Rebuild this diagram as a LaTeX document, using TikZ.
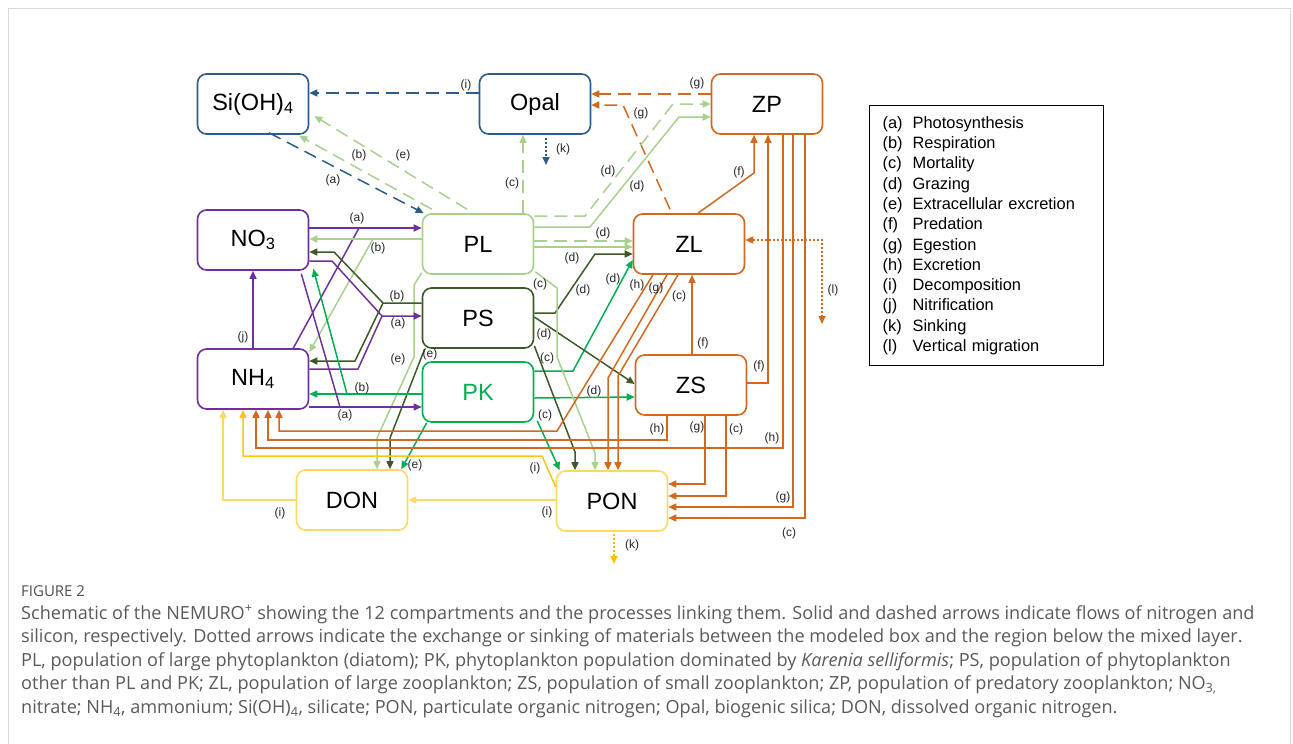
\documentclass[tikz,border=0pt]{standalone}
\usepackage{fontspec}
\setmainfont{Liberation Sans}
\newfontfamily\captionfont{Open Sans}
\usepackage{tikz}
\usetikzlibrary{arrows.meta, calc}
\definecolor{siblue}{HTML}{2E5C8A}
\definecolor{zooorange}{HTML}{D2691E}
\definecolor{nutpurple}{HTML}{7030A0}
\definecolor{plgreen}{HTML}{A9D18E}
\definecolor{psgreen}{HTML}{3B5A26}
\definecolor{pkgreen}{HTML}{00B050}
\definecolor{detyellow}{HTML}{FFD966}
\definecolor{goldyellow}{HTML}{FFC000}
\definecolor{captiongray}{HTML}{5A5A5A}

\begin{document}
\begin{tikzpicture}[
    x=1pt, y=-1pt,
    box/.style={rectangle, rounded corners=9pt, draw, line width=1.6pt, fill=white,
                minimum width=111pt, minimum height=60pt, inner sep=0pt,
                font=\fontsize{23.5}{23.5}\selectfont},
    flow/.style={line width=1.5pt, -{Triangle[length=8pt, width=7pt]}},
    siflow/.style={flow, dash pattern=on 13pt off 7pt},
    link/.style={line width=1.5pt},
    sink/.style={line width=1.6pt, dash pattern=on 2pt off 2pt, -{Triangle[length=8pt, width=7pt]}},
    lbl/.style={font=\fontsize{12}{12}\selectfont, text=black!85, inner sep=0pt},
]
\useasboundingbox (0,0) rectangle (1293,744);
\draw[gray!30, line width=0.8pt] (8,744) -- (8,8) -- (1290,8) -- (1290,744);

% Row 1: silicate, opal, predatory zooplankton
\node[box, draw=siblue] (siloh) at (253,104) {Si(OH)\textsubscript{4}};
\node[box, draw=siblue] (opal) at (535,104) {Opal};
\node[box, draw=zooorange] (zp) at (767,104) {ZP};

% Row 2: nutrients, phytoplankton, zooplankton
\node[box, draw=nutpurple] (nothree) at (253,240) {NO\textsubscript{3}};
\node[box, draw=plgreen] (pl) at (478,244) {PL};
\node[box, draw=zooorange] (zl) at (689,244) {ZL};
\node[box, draw=psgreen] (ps) at (478,318) {PS};
\node[box, draw=nutpurple] (nhfour) at (253,379) {NH\textsubscript{4}};
\node[box, draw=pkgreen, text=pkgreen] (pk) at (478,392) {PK};
\node[box, draw=zooorange] (zs) at (691,385) {ZS};

% Row 3: detritus
\node[box, draw=detyellow] (don) at (352,500) {DON};
\node[box, draw=detyellow] (pon) at (612,501) {PON};

% junctions and open ends
\coordinate (nojoin) at (359,228);
\coordinate (plsplit) at (373,239);
\coordinate (pssplit) at (383,303);
\coordinate (psjoin) at (382,316);
\coordinate (pksplit) at (347,394);
\coordinate (pkjoin) at (340,407);
\coordinate (opalsink) at (546,165);
\coordinate (ponsink) at (614,564);
\coordinate (zlmig) at (822,324);

% silicon flows (dashed)
\draw[siflow, siblue] ($(opal.west)+(0,-11)$) -- ($(siloh.east)+(0,-11)$) node[lbl] at (466,85) {(i)};
\draw[siflow, siblue] ($(siloh.south)+(16,-2)$) -- ($(pl.north west)+(2,0)$) node[lbl] at (333,180) {(a)};
\draw[siflow, plgreen] ($(pl.north west)+(10,-4)$) -- ($(siloh.south east)+(-10,1)$) node[lbl] at (359,155) {(b)};
\draw[siflow, plgreen] ($(pl.north)+(-11,-4)$) -- ($(siloh.east)+(5,12)$) node[lbl] at (403,155) {(e)};
\draw[siflow, plgreen] ($(pl.north)+(45,0)$) -- ($(opal.south)+(-12,0)$) node[lbl] at (512,183) {(c)};
\draw[sink, siblue] ($(opal.south)+(11,3)$) -- (opalsink) node[lbl] at (563,149) {(k)};
\draw[siflow, zooorange] ($(zp.west)+(0,-10)$) -- ($(opal.east)+(0,-10)$) node[lbl] at (697,83) {(g)};
\draw[siflow, zooorange] ($(zl.north)+(-19,-4)$) -- (623,105) -- ($(opal.east)+(0,1)$) node[lbl] at (641,113) {(g)};
\draw[siflow, plgreen] ($(pl.east)+(0,-28)$) -- (585,216) -- (673,104) -- (zp.west) node[lbl] at (608,171) {(d)};
\draw[siflow, plgreen] ($(pl.east)+(0,-3)$) -- ($(zl.west)+(0,-3)$) node[lbl] at (603,233) {(d)};

% grazing (solid)
\draw[flow, plgreen] ($(pl.east)+(0,-17)$) -- (590,227) -- (679,117) -- ($(zp.west)+(0,13)$) node[lbl] at (637,186) {(d)};
\draw[flow, plgreen] ($(pl.east)+(0,3)$) -- ($(zl.west)+(0,3)$) node[lbl] at (572,258) {(d)};
\draw[flow, psgreen] ($(ps.east)+(0,-5)$) -- (555,313) -- (595,254) -- ($(zl.west)+(0,10)$) node[lbl] at (583,290) {(d)};
\draw[flow, pkgreen] ($(pk.east)+(0,-21)$) -- (573,371) -- ($(zl.west)+(0,16)$) node[lbl] at (613,279) {(d)};
\draw[flow, psgreen] ($(ps.east)+(0,-1)$) -- ($(zs.west)+(0,-1)$) node[lbl] at (544,334) {(d)};
\draw[flow, pkgreen] ($(pk.east)+(0,6)$) -- ($(zs.west)+(0,12)$) node[lbl] at (594,391) {(d)};

% mortality and excretion of phytoplankton
\draw[flow, plgreen] ($(pl.south east)+(1,-3)$) -- (557,288) -- (557,357) -- (595,453) -- ($(pon.north)+(-17,0)$) node[lbl] at (540,284) {(c)};
\draw[flow, psgreen] ($(ps.south east)+(0,-3)$) -- (575,452) -- ($(pon.north)+(-37,0)$) node[lbl] at (547,358) {(c)};
\draw[flow, pkgreen] ($(pk.south east)+(3,-2)$) -- ($(pon.north west)+(4,0)$) node[lbl] at (545,415) {(c)};
\draw[flow, pkgreen] ($(pk.south west)+(5,0)$) -- ($(don.north east)+(-7,0)$) node[lbl] at (415,465) {(e)};
\draw[flow, psgreen] ($(ps.south west)+(3,0)$) -- (390,438) -- ($(don.north)+(38,0)$) node[lbl] at (430,354) {(e)};
\draw[flow, plgreen] ($(pl.south west)+(0,-2)$) -- (414,285) -- (414,357) -- (377,438) -- ($(don.north)+(25,0)$) node[lbl] at (398,359) {(e)};

% uptake and respiration with the nutrients
\draw[flow, nutpurple] ($(nothree.east)+(0,-12)$) -- ($(pl.west)+(0,-16)$) node[lbl] at (357,218) {(a)};
\draw[link, nutpurple] ($(nhfour.north east)+(-16,0)$) -- (nojoin);
\draw[flow, plgreen] ($(pl.west)+(0,-5)$) -- ($(nothree.east)+(0,-1)$) node[lbl] at (378,248) {(b)};
\draw[flow, plgreen] (plsplit) -- ($(nhfour.north east)+(0,4)$);
\draw[flow, psgreen] ($(ps.west)+(0,-15)$) -- (pssplit) -- (334,252) -- ($(nothree.east)+(0,12)$) node[lbl] at (397,296) {(b)};
\draw[flow, psgreen] (pssplit) -- (355,361) -- ($(nhfour.east)+(0,-18)$);
\draw[flow, nutpurple] ($(nothree.east)+(0,21)$) -- (332,261) -- (psjoin) -- ($(ps.west)+(0,-2)$) node[lbl] at (398,323) {(a)};
\draw[link, nutpurple] ($(nhfour.east)+(0,-10)$) -- (358,369) -- (psjoin);
\draw[flow, pkgreen] ($(pk.west)+(0,2)$) -- ($(nhfour.east)+(0,15)$) node[lbl] at (362,388) {(b)};
\draw[flow, pkgreen] (pksplit) -- ($(nothree.south east)+(4,-2)$);
\draw[link, nutpurple] ($(nothree.south east)+(-8,3)$) -- (pkjoin);
\draw[flow, nutpurple] ($(nhfour.east)+(0,28)$) -- ($(pk.west)+(0,15)$) node[lbl] at (345,415) {(a)};
\draw[flow, nutpurple] (nhfour.north) -- (nothree.south) node[lbl] at (243,337) {(j)};

% decomposition and sinking of detritus
\draw[flow, detyellow] (don.west) -| ($(nhfour.south)+(-30,0)$) node[lbl] at (280,513) {(i)};
\draw[flow, goldyellow!80!detyellow] ($(pon.west)+(0,-14)$) -- (542,456) -| ($(nhfour.south)+(-10,0)$) node[lbl] at (535,468) {(i)};
\draw[flow, detyellow] ($(pon.west)+(0,-1)$) -- (don.east) node[lbl] at (547,512) {(i)};
\draw[sink, goldyellow] ($(pon.south)+(2,2)$) -- (ponsink) node[lbl] at (632,545) {(k)};

% zooplankton flows
\draw[flow, zooorange] ($(zl.south)+(-36,0)$) -- (557,431) -| ($(nhfour.south)+(26,0)$) node[lbl] at (637,285) {(h)};
\draw[flow, zooorange] ($(zl.south)+(-22,0)$) -- (608,378) -- ($(pon.north)+(-4,0)$) node[lbl] at (656,288) {(g)};
\draw[flow, zooorange] ($(zl.south)+(-11,0)$) -- (618,376) -- ($(pon.north)+(6,0)$) node[lbl] at (679,296) {(c)};
\draw[flow, zooorange] ($(zs.north)+(1,0)$) -- ($(zl.south)+(3,0)$) node[lbl] at (703,343) {(f)};
\draw[flow, zooorange] ($(zs.south)+(-24,0)$) -- (667,440) -| ($(nhfour.south)+(15,0)$) node[lbl] at (657,429) {(h)};
\draw[flow, zooorange] ($(zs.south)+(14,0)$) |- ($(pon.east)+(0,-17)$) node[lbl] at (697,427) {(g)};
\draw[flow, zooorange] ($(zs.south)+(35,0)$) |- ($(pon.east)+(0,-5)$) node[lbl] at (736,429) {(c)};
\draw[flow, zooorange] ($(zs.east)+(0,-2)$) -| ($(zp.south)+(1,0)$) node[lbl] at (759,366) {(f)};
\draw[flow, zooorange] ($(zl.north)+(9,0)$) -- (754,173) -- ($(zp.south)+(-13,0)$) node[lbl] at (739,172) {(f)};
\draw[flow, zooorange] ($(zp.south)+(16,0)$) -- (783,448) -| ($(nhfour.south)+(3,0)$) node[lbl] at (772,438) {(h)};
\draw[flow, zooorange] ($(zp.south)+(26,0)$) |- ($(pon.east)+(0,6)$) node[lbl] at (783,497) {(g)};
\draw[flow, zooorange] ($(zp.south)+(38,0)$) |- ($(pon.east)+(0,17)$) node[lbl] at (789,533) {(c)};
\draw[sink, zooorange, {Triangle[length=8pt, width=7pt]}-{Triangle[length=8pt, width=7pt]}] ($(zl.east)+(0,-4)$) -- (822,240) -- (zlmig) node[lbl] at (833,290) {(l)};

% legend of processes
\node[draw, line width=1.3pt, anchor=north west, minimum width=234pt, minimum height=260pt,
      text width=208pt, inner xsep=13pt, align=left, font=\fontsize{16.4}{20.3}\selectfont] (legend) at (869,105)
     {\makebox[30pt][l]{(a)}Photosynthesis\\
      \makebox[30pt][l]{(b)}Respiration\\
      \makebox[30pt][l]{(c)}Mortality\\
      \makebox[30pt][l]{(d)}Grazing\\
      \makebox[30pt][l]{(e)}Extracellular excretion\\
      \makebox[30pt][l]{(f)}Predation\\
      \makebox[30pt][l]{(g)}Egestion\\
      \makebox[30pt][l]{(h)}Excretion\\
      \makebox[30pt][l]{(i)}Decomposition\\
      \makebox[30pt][l]{(j)}Nitrification\\
      \makebox[30pt][l]{(k)}Sinking\\
      \makebox[30pt][l]{(l)}Vertical migration};

% caption
\node[anchor=west, inner sep=0pt, text=captiongray!90!black, font=\captionfont\fontsize{15}{15}\selectfont] (figlabel) at (21,591) {FIGURE 2};
\node[anchor=north west, inner sep=0pt, align=left, text=captiongray, font=\captionfont\fontsize{18.1}{23.5}\selectfont] (caption) at (21,605)
     {Schematic of the NEMURO\textsuperscript{+} showing the 12 compartments and the processes linking them. Solid and dashed arrows indicate flows of nitrogen and\\
      silicon, respectively. Dotted arrows indicate the exchange or sinking of materials between the modeled box and the region below the mixed layer.\\
      PL, population of large phytoplankton (diatom); PK, phytoplankton population dominated by \textit{Karenia selliformis}; PS, population of phytoplankton\\
      other than PL and PK; ZL, population of large zooplankton; ZS, population of small zooplankton; ZP, population of predatory zooplankton; NO\textsubscript{3,}\\
      nitrate; NH\textsubscript{4}, ammonium; Si(OH)\textsubscript{4}, silicate; PON, particulate organic nitrogen; Opal, biogenic silica; DON, dissolved organic nitrogen.};
\end{tikzpicture}
\end{document}
